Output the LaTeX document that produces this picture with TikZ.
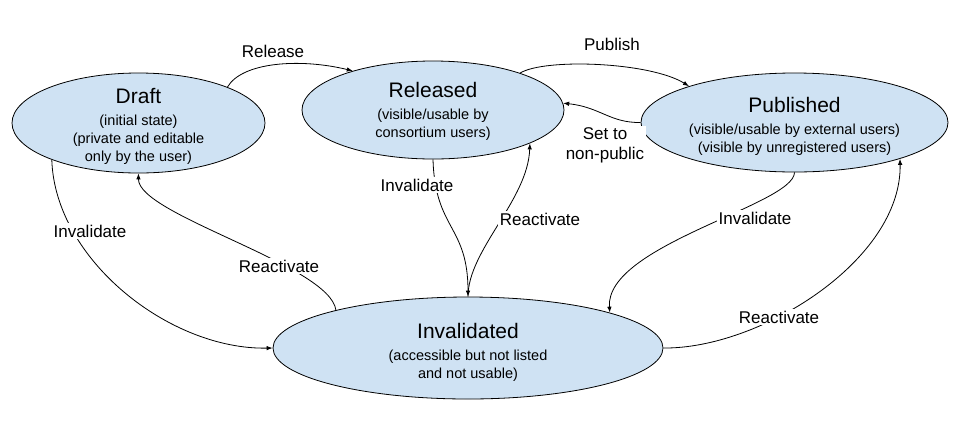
\documentclass[tikz,border=0pt]{standalone}
\usepackage{fontspec}
\setmainfont{Liberation Sans}
\usetikzlibrary{shapes.geometric,arrows.meta}
\definecolor{statefill}{HTML}{CFE2F3}
\newcommand{\sttitle}[1]{{\fontsize{21}{24}\selectfont #1}}
\newcommand{\stsub}{\fontsize{14.5}{18}\selectfont}
\tikzset{
  state/.style={ellipse, draw=black, fill=statefill, line width=0.8pt, inner sep=0pt},
  stext/.style={align=center, font=\stsub, inner sep=0pt},
  elabel/.style={fill=white, inner sep=1.5pt, font=\fontsize{17}{20}\selectfont},
  conn/.style={-{Latex[length=6pt,width=4.5pt]}, line width=0.8pt},
}
\begin{document}
\begin{tikzpicture}[x=1pt,y=-1pt]
\useasboundingbox (0,0) rectangle (957,424);

\node[state, minimum width=253pt, minimum height=100pt] (draft) at (138.5,123) {};
\node[state, minimum width=262pt, minimum height=98pt] (rel) at (433,110) {};
\node[state, minimum width=307pt, minimum height=99pt] (pub) at (794.5,122.5) {};
\node[state, minimum width=390pt, minimum height=102pt] (inv) at (468,348) {};

\node[stext] (drafttxt) at ([yshift=-3pt]draft.center) {\sttitle{Draft}\\[4pt](initial state)\\(private and editable\\only by the user)};
\node[stext] (reltxt) at ([yshift=-1pt]rel.center) {\sttitle{Released}\\[4pt](visible/usable by\\consortium users)};
\node[stext] (pubtxt) at ([yshift=-4pt]pub.center) {\sttitle{Published}\\[4pt](visible/usable by external users)\\(visible by unregistered users)};
\node[stext] (invtxt) at ([yshift=-4pt]inv.center) {\sttitle{Invalidated}\\[4pt](accessible but not listed\\and not usable)};

\draw[conn] (draft.22) .. controls (242,62) and (300,58) .. (rel.154);
\draw[conn] (rel.23) .. controls (545,58) and (650,62) .. (pub.161);
\draw[conn] (pub.180) .. controls (610,123) and (600,107) .. (rel.3);
\draw[conn] (draft.203) .. controls (55,260) and (170,350) .. (inv.180);
\draw[conn] (inv.164) .. controls (330,265) and (138,215) .. (draft.270);
\draw[conn] (rel.270) .. controls (435,230) and (468,225) .. (inv.90);
\draw[conn] (inv.90) .. controls (468,250) and (528,200) .. (rel.341);
\draw[conn] (pub.270) .. controls (794,205) and (605,245) .. (inv.14);
\draw[conn] (inv.0) .. controls (760,349) and (902,260) .. (pub.341);

\node[elabel] (lrelease) at (273,51) {Release};
\node[elabel] (lpublish) at (612,44) {Publish};
\node[elabel, align=center] (lsetnp) at (605,145) {Set to\\non-public};
\node[elabel] (linvl) at (90,231) {Invalidate};
\node[elabel] (lreacl) at (279,266) {Reactivate};
\node[elabel] (linvm) at (417,185) {Invalidate};
\node[elabel] (lreacm) at (540,219) {Reactivate};
\node[elabel] (linvr) at (755,218) {Invalidate};
\node[elabel] (lreacr) at (779,317) {Reactivate};
\end{tikzpicture}
\end{document}
